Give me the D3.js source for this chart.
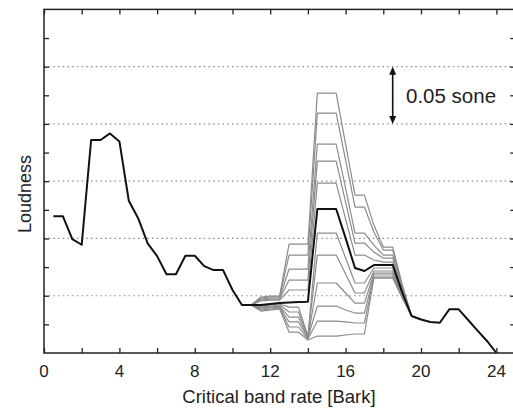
<!DOCTYPE html>
<html><head><meta charset="utf-8">
<script src="https://cdn.jsdelivr.net/npm/d3@7"></script>
<style>html,body{margin:0;padding:0;background:#fff;overflow:hidden;}svg{display:block;}</style>
</head><body>
<svg id="c" width="513" height="410"></svg>
<script>
// ---- data ----
const bark = [0.5,1,1.5,2,2.5,3,3.5,4,4.5,5,5.5,6,6.5,7,7.5,8,8.5,9,9.5,10,10.5,11,11.5,12,12.5,13,13.5,14,14.5,15,15.5,16,16.5,17,17.5,18,18.5,19,19.5,20,20.5,21,21.5,22,22.5,23,23.5,24];
const loudness = [0.1195,0.1195,0.0995,0.0945,0.186,0.186,0.1917,0.1847,0.1329,0.1175,0.0957,0.0846,0.0687,0.0687,0.0849,0.0849,0.0759,0.0724,0.0724,0.055,0.0419,0.0419,0.0419,0.0428,0.0436,0.0441,0.0445,0.0448,0.1257,0.1257,0.1257,0.1003,0.0742,0.0716,0.0768,0.0768,0.0768,0.0532,0.0323,0.0292,0.027,0.0264,0.0381,0.0381,0.0288,0.0196,0.0105,0.0];
const grayBark = [11,11.5,12,12.5,13,13.5,14,14.5,15,15.5,16,16.5,17,17.5,18,18.5,19,19.5,20];
const grayU5 = [0.0419,0.0489,0.0497,0.0497,0.0951,0.0951,0.0951,0.2269,0.2269,0.2269,0.1824,0.1379,0.1379,0.1117,0.0925,0.0925,0.0602,0.0323,0.0292];
const grayU4 = [0.0419,0.0480,0.0489,0.0489,0.0855,0.0855,0.0855,0.2094,0.2094,0.2094,0.1684,0.1274,0.1274,0.1056,0.0899,0.0899,0.0585,0.0323,0.0292];
const grayU3 = [0.0419,0.0471,0.0480,0.0480,0.0733,0.0733,0.0733,0.1824,0.1824,0.1824,0.1440,0.1047,0.1047,0.0942,0.0855,0.0855,0.0567,0.0323,0.0292];
const grayU2 = [0.0419,0.0462,0.0471,0.0471,0.0637,0.0637,0.0637,0.1675,0.1675,0.1675,0.1318,0.0960,0.0960,0.0881,0.0829,0.0829,0.0558,0.0323,0.0292];
const grayU1 = [0.0419,0.0454,0.0462,0.0462,0.0550,0.0550,0.0550,0.1483,0.1483,0.1483,0.1169,0.0855,0.0855,0.0812,0.0794,0.0794,0.0550,0.0323,0.0292];
const grayL1 = [0.0419,0.0410,0.0419,0.0428,0.0401,0.0401,0.0148,0.1047,0.1047,0.1047,0.0829,0.0611,0.0611,0.0742,0.0742,0.0742,0.0524,0.0323,0.0292];
const grayL2 = [0.0419,0.0401,0.0410,0.0419,0.0358,0.0358,0.0140,0.0855,0.0855,0.0855,0.0689,0.0524,0.0524,0.0716,0.0716,0.0716,0.0515,0.0323,0.0292];
const grayL3 = [0.0419,0.0393,0.0401,0.0410,0.0314,0.0314,0.0131,0.0611,0.0611,0.0611,0.0524,0.0436,0.0436,0.0698,0.0698,0.0698,0.0506,0.0323,0.0292];
const grayL4 = [0.0419,0.0384,0.0393,0.0401,0.0271,0.0271,0.0131,0.0410,0.0410,0.0410,0.0375,0.0349,0.0349,0.0681,0.0681,0.0681,0.0497,0.0323,0.0292];
const grayL5 = [0.0419,0.0375,0.0384,0.0393,0.0227,0.0227,0.0122,0.0279,0.0279,0.0279,0.0271,0.0262,0.0262,0.0663,0.0663,0.0663,0.0489,0.0323,0.0292];
const grayL6 = [0.0419,0.0366,0.0375,0.0384,0.0183,0.0183,0.0113,0.0148,0.0148,0.0148,0.0157,0.0166,0.0166,0.0654,0.0654,0.0654,0.0480,0.0323,0.0292];
const xTicks = [0,4,8,12,16,20,24];
const xMinorTicks = [2,6,10,14,18,22];
const yGrid = [0.05,0.10,0.15,0.20,0.25];
const yMinorTicks = [0.025,0.075,0.125,0.175,0.225,0.275];
const scaleBar = [0.20,0.25];
const scaleLabel = "0.05 sone";
const xTitle = "Critical band rate [Bark]";
const yTitle = "Loudness";

// ---- layout ----
const svg = d3.select("#c");
const x = d3.scaleLinear().domain([0,25]).range([44,515.25]);
const y = d3.scaleLinear().domain([0,0.3]).range([353,9.4]);
const L = x(0), R = x(25), T = y(0.3), B = y(0);
const font = "'Liberation Sans', Arial, sans-serif";

// gridlines
svg.append("g").selectAll("line").data(yGrid).join("line")
  .attr("x1",L).attr("x2",R).attr("y1",d=>y(d)).attr("y2",d=>y(d))
  .attr("stroke","#8a8a8a").attr("stroke-width",1.2).attr("stroke-dasharray","1.5,3.2");

// axes with inward ticks
const tl = 5;
const axB = d3.axisBottom(x).tickValues(xTicks.concat(xMinorTicks)).tickSize(-tl).tickFormat("");
const axT = d3.axisTop(x).tickValues(xTicks.concat(xMinorTicks)).tickSize(-tl).tickFormat("");
const axL = d3.axisLeft(y).tickValues(yGrid.concat(yMinorTicks)).tickSize(-tl).tickFormat("");
const axR = d3.axisRight(y).tickValues(yGrid.concat(yMinorTicks)).tickSize(-tl).tickFormat("");
[[axB,`translate(0,${B})`],[axT,`translate(0,${T})`],[axL,`translate(${L},0)`],[axR,`translate(${R},0)`]].forEach(([a,t])=>{
  const g = svg.append("g").attr("transform",t).call(a);
  g.select(".domain").remove();
  g.selectAll(".tick line").attr("stroke","#222").attr("stroke-width",1.3);
});

// x tick labels
svg.append("g").selectAll("text").data(xTicks).join("text")
  .attr("x",d=>x(d)).attr("y",377).attr("text-anchor","middle")
  .attr("font-family",font).attr("font-size",17).attr("fill","#222").text(d=>d);

// gray curves
const grays = [grayL6,grayL5,grayL4,grayL3,grayL2,grayL1,grayU1,grayU2,grayU3,grayU4,grayU5];
const line = d3.line().x(d=>x(d[0])).y(d=>y(d[1]));
svg.append("g").selectAll("path").data(grays).join("path")
  .attr("d",vals=>line(grayBark.map((b,i)=>[b,vals[i]])))
  .attr("fill","none").attr("stroke","#8c8c8c").attr("stroke-width",1.2).attr("stroke-linejoin","round");

// black curve
svg.append("path").attr("d",line(bark.map((b,i)=>[b,loudness[i]])))
  .attr("fill","none").attr("stroke","#111").attr("stroke-width",2).attr("stroke-linejoin","round");

// frame
svg.append("rect").attr("x",L).attr("y",T).attr("width",R-L).attr("height",B-T)
  .attr("fill","none").attr("stroke","#222").attr("stroke-width",1.5);

// scale arrow
const ax = 392.7;
svg.append("line").attr("x1",ax).attr("x2",ax).attr("y1",y(scaleBar[1])+7).attr("y2",y(scaleBar[0])-7)
  .attr("stroke","#111").attr("stroke-width",1.6);
svg.append("path").attr("d",`M${ax},${y(scaleBar[1])} l-3.5,8 l7,0 z`).attr("fill","#111");
svg.append("path").attr("d",`M${ax},${y(scaleBar[0])} l-3.5,-8 l7,0 z`).attr("fill","#111");
svg.append("text").attr("x",406).attr("y",102.5).attr("font-family",font).attr("font-size",20.5)
  .attr("fill","#222").text(scaleLabel);

// titles
svg.append("text").attr("x",279).attr("y",403).attr("text-anchor","middle")
  .attr("font-family",font).attr("font-size",18.5).attr("fill","#222").text(xTitle);
svg.append("text").attr("transform","translate(31,194) rotate(-90)").attr("text-anchor","middle")
  .attr("font-family",font).attr("font-size",18).attr("fill","#222").text(yTitle);
</script>
</body></html>
